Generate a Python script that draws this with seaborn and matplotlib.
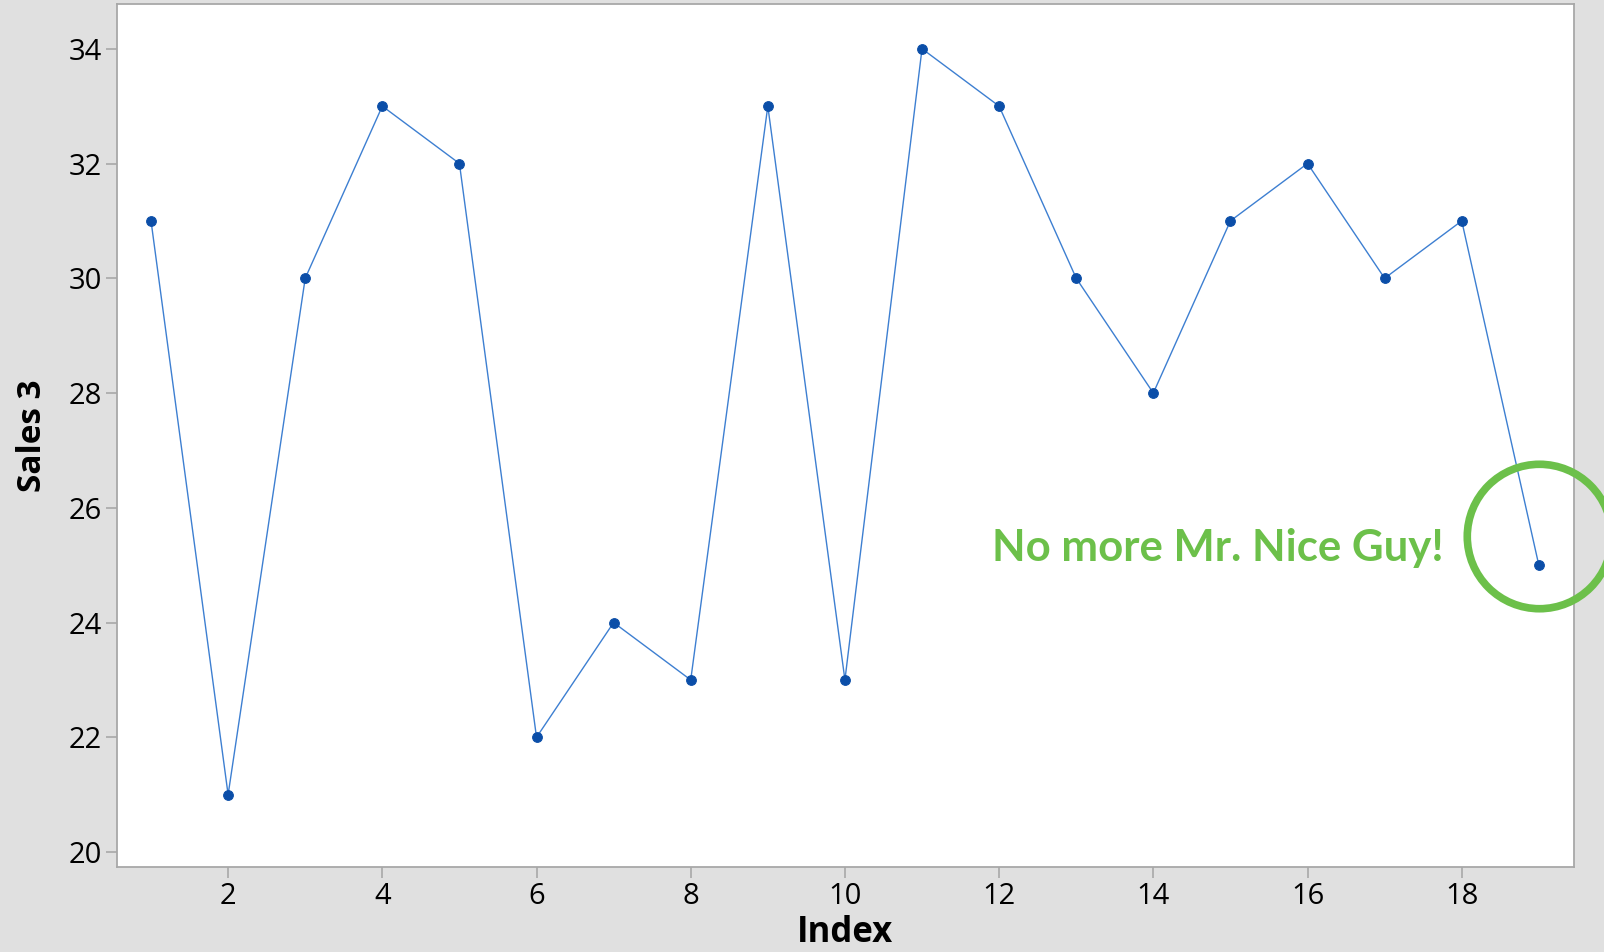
import numpy as np
import pandas as pd
import matplotlib.pyplot as plt
import seaborn as sns

# data
index = list(range(1, 20))
sales3 = [31, 21, 30, 33, 32, 22, 24, 23, 33, 23, 34, 33, 30, 28, 31, 32, 30, 31, 25]
yticks = [20, 22, 24, 26, 28, 30, 32, 34]
xticks = [2, 4, 6, 8, 10, 12, 14, 16, 18]
note_text = "No more Mr. Nice Guy!"
note_x, note_y = 14.83, 25.3
circle_x, circle_y = 19, 25.5

df = pd.DataFrame({"Index": index, "Sales 3": sales3})

sns.set_style("white")
plt.rcParams["font.family"] = ["Open Sans", "DejaVu Sans"]

fig = plt.figure(figsize=(16.04, 9.52), dpi=100, facecolor="#e0e0e0")
ax = fig.add_axes([0.073, 0.0893, 0.908, 0.9065])
ax.set_facecolor("white")

sns.lineplot(data=df, x="Index", y="Sales 3", ax=ax, color="#3d7fd1", linewidth=1.0,
             marker="o", markersize=7, markerfacecolor="#0b4ea8", markeredgecolor="#0b4ea8")

ax.set_xlim(0.56, 19.45)
ax.set_ylim(19.74, 34.78)
ax.set_xticks(xticks)
ax.set_yticks(yticks)

for s in ax.spines.values():
    s.set_color("#a8a8a8")
    s.set_linewidth(1.3)
ax.tick_params(axis="both", direction="out", length=8, width=1.2, color="#a8a8a8",
               labelsize=21, labelcolor="black", pad=3, left=True, bottom=True)

ax.set_xlabel("Index", fontsize=25, fontweight="bold", labelpad=3, color="black")
ax.set_ylabel("Sales 3", fontsize=24, fontweight="bold", labelpad=14, color="black")

ax.text(note_x, note_y, note_text, color="#6cc04a", fontsize=31.5, fontweight="bold",
        ha="center", va="center", family=["Lato", "DejaVu Sans"])
ax.plot([circle_x], [circle_y], marker="o", markersize=104, markerfacecolor="none",
        markeredgecolor="#6cc04a", markeredgewidth=5.5, clip_on=False, zorder=5)

fig.savefig("out.png", dpi=100, facecolor=fig.get_facecolor())
